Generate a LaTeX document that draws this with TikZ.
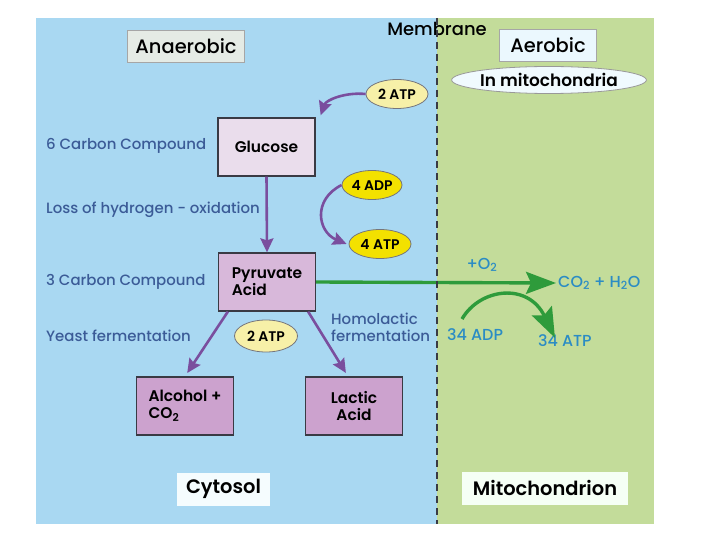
\documentclass[tikz,border=0pt]{standalone}
\usepackage{fontspec}
\setmainfont{Poppins}[UprightFont={* Medium}, BoldFont={* SemiBold}]
\usepackage{xcolor}
\usetikzlibrary{arrows.meta,positioning,calc,shapes.geometric}

\definecolor{cytobg}{HTML}{A9D8F2}
\definecolor{mitobg}{HTML}{C3DC9A}
\definecolor{labblue}{HTML}{3B5B97}
\definecolor{aerblue}{HTML}{2B8CC4}
\definecolor{arrpurple}{HTML}{7A4E9E}
\definecolor{arrgreen}{HTML}{2E9B3B}
\definecolor{boxline}{HTML}{3A3A44}
\definecolor{glucfill}{HTML}{EADDEC}
\definecolor{pyrfill}{HTML}{D8B8DA}
\definecolor{endfill}{HTML}{CCA2CE}
\definecolor{paleyel}{HTML}{F7F0A8}
\definecolor{strongyel}{HTML}{F3E100}

\begin{document}
\begin{tikzpicture}[
  x=1bp, y=-1bp,
  lbl/.style={text=labblue, font=\fontsize{15}{17}\selectfont, inner sep=0pt},
  aer/.style={text=aerblue, font=\fontsize{16}{18}\selectfont, inner sep=0pt},
  mol/.style={draw=boxline, line width=1.3pt, minimum width=97bp, minimum height=58bp,
    inner xsep=8bp, font=\bfseries\fontsize{15.5}{17}\selectfont, align=left},
  atp/.style={ellipse, draw=boxline!70, line width=0.8pt, minimum width=62bp,
    minimum height=29bp, inner sep=0pt, font=\bfseries\fontsize{14}{16}\selectfont},
  tag/.style={draw=gray!70, line width=0.8pt, minimum height=32bp,
    font=\fontsize{19.5}{22}\selectfont},
  place/.style={minimum height=33bp, font=\bfseries\fontsize{19.5}{22}\selectfont},
  arr/.style={-{Stealth[length=14bp,width=13bp,inset=2bp]}, line width=2.6pt, draw=arrpurple},
  garr/.style={-{Stealth[length=30bp,width=22bp,inset=5bp]}, line width=3.4pt, draw=arrgreen}
]
\useasboundingbox (0,0) rectangle (720,540);
\fill[cytobg] (36,18) rectangle (437,524);
\fill[mitobg] (437,18) rectangle (654,524);

\node[font=\fontsize{18}{20}\selectfont, inner sep=0pt] (memb) at (437,29) {Membrane};
\node[tag, fill=green!12!gray!18!white, minimum width=117bp] (anaer) at (186,46) {Anaerobic};
\node[tag, fill=cyan!8!white, minimum width=97bp] (aer) at (548,45) {Aerobic};
\node[ellipse, draw=gray!80, line width=0.8pt, fill=cyan!6!white, minimum width=150bp,
  minimum height=27bp, inner sep=0pt, font=\bfseries\fontsize{17}{19}\selectfont] (inmito) at (549,80) {In mitochondria};

\node[atp, fill=paleyel] (atpa) at (397,94) {2 ATP};
\node[mol, fill=glucfill, align=center] (gluc) at (266.5,147) {Glucose};
\node[atp, fill=strongyel, minimum width=60bp] (adp) at (372,185) {4 ADP};
\node[atp, fill=strongyel, minimum width=62bp] (atpb) at (380,244) {4 ATP};
\node[mol, fill=pyrfill] (pyr) at (267,282) {Pyruvate\\Acid};
\node[atp, fill=paleyel, minimum width=63bp, minimum height=32bp] (atpc) at (266,336) {2 ATP};
\node[mol, fill=endfill] (alc) at (185,406) {Alcohol +\\CO\textsubscript{2}};
\node[mol, fill=endfill, align=center] (lac) at (354,406) {Lactic\\Acid};

\node[lbl, anchor=west] (six) at (46,146) {6 Carbon Compound};
\node[lbl, anchor=west] (loss) at (46,210) {Loss of hydrogen - oxidation};
\node[lbl, anchor=west] (three) at (46,282) {3 Carbon Compound};
\node[lbl, anchor=west] (yeast) at (46,336) {Yeast fermentation};
\node[lbl, anchor=west, align=left] (homo) at (331,327) {Homolactic\\fermentation};

\node[aer, anchor=west] (prod) at (558,283) {CO\textsubscript{2} + H\textsubscript{2}O};
\node[aer] (oxy) at (482,265) {+O\textsubscript{2}};
\node[aer, anchor=west] (adpm) at (447,335) {34 ADP};
\node[aer, anchor=west] (atpm) at (538,341) {34 ATP};
\coordinate (gstart) at (462,319);

\node[place, fill=cyan!4!white, minimum width=93bp] (cyto) at (223.5,489) {Cytosol};
\node[place, fill=green!4!white, minimum width=166bp] (mito) at (545,488) {Mitochondrion};

\draw[arr] (atpa.west) .. controls (345,92) and (326,100) .. ([xshift=5bp,yshift=2bp]gluc.north east);
\draw[arr] (gluc.south) -- (pyr.north);
\draw[arr] (adp.west) .. controls (312,200) and (318,232) .. ([xshift=-2bp]atpb.west);
\draw[arr, shorten >=4bp] ([xshift=10bp]pyr.south west) -- (alc.north);
\draw[arr, shorten >=4bp] ([xshift=-8bp]pyr.south east) -- ([xshift=-6bp]lac.north);
\draw[garr] (pyr.east) -- ([xshift=-2bp]prod.west);
\draw[garr] (gstart) .. controls (480,288) and (528,282) .. ([xshift=-10bp,yshift=-3bp]atpm.north);

\draw[boxline, line width=1.3pt, dash pattern=on 7pt off 5pt] (437,18) -- (437,524);
\end{tikzpicture}
\end{document}
